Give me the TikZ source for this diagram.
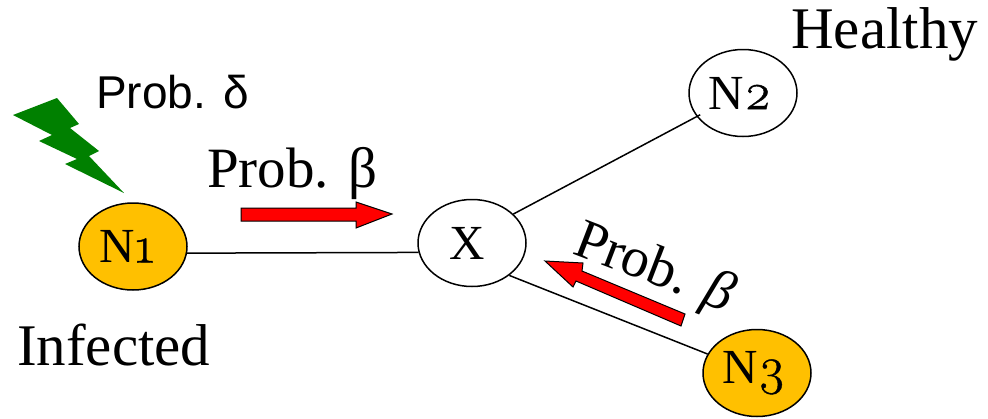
\documentclass[tikz,border=0pt]{standalone}
\usepackage{fontspec}
\usetikzlibrary{shapes.geometric}
\setmainfont{Liberation Serif}
\newfontfamily\sansf{Liberation Sans}
\newfontfamily\nodef[Numbers=OldStyle,FakeBold=0.8]{Latin Modern Roman}
\newcommand{\digitfig}[1]{{\fontsize{52}{52}\selectfont\nodef #1}}
\begin{document}
\begin{tikzpicture}[x=1pt,y=-1pt,
  site/.style={draw=black,line width=1.5pt,ellipse,minimum width=108pt,minimum height=87pt,inner sep=0pt,font=\fontsize{49}{49}\selectfont},
  infected/.style={site,fill=infgold},
  healthy/.style={site,fill=white},
  link/.style={draw=black,line width=1.5pt},
  flow/.style={draw=black,line width=1pt,fill=red,miter limit=10},
  caption/.style={anchor=base west,inner sep=0pt,font=\fontsize{59}{59}\selectfont},
]
\definecolor{infgold}{HTML}{FFC000}
\definecolor{boltgreen}{HTML}{008000}
\useasboundingbox (0,0) rectangle (988,418);
\node[infected] (N1) at (133,246.5) {\hspace*{-12pt}N\digitfig{1}};
\node[healthy] (X) at (472,243) {\hspace*{-10pt}X};
\node[healthy] (N2) at (743,93) {\hspace*{-6pt}N\digitfig{2}};
\node[infected] (N3) at (757,373) {\hspace*{-6pt}N\digitfig{3}};
\draw[link] (N1.-7) -- (X.190);
\draw[link,shorten >=-4pt] (X.35) -- (N2.207);
\draw[link] (X.-41) -- (N3.159);
\fill[boltgreen] (13,115) -- (57,98) -- (79,124) -- (70,128) -- (99,151) -- (89,156) -- (124,193) -- (65,164) -- (77,159) -- (39,141) -- (52,135) -- cycle;
\draw[flow] (241,208) -- (356,208) -- (356,202) -- (392,214) -- (356,228) -- (356,221) -- (241,221) -- cycle;
\draw[flow] (685,314) -- (681,326) -- (576,281) -- (573,287) -- (545,261) -- (583,263) -- (582,271) -- cycle;
\node[caption,font=\fontsize{46}{46}\selectfont\sansf] (pd) at (96,108) {Prob. δ};
\node[caption,font=\fontsize{57}{57}\selectfont] (pb) at (207,187) {Prob. β};
\node[caption] (inf) at (17,365) {Infected};
\node[caption] (hea) at (791,48) {Healthy};
\node[caption,font=\fontsize{56}{56}\selectfont,rotate=-21] (pb2) at (571,253) {Prob. \textit{β}};
\end{tikzpicture}
\end{document}
